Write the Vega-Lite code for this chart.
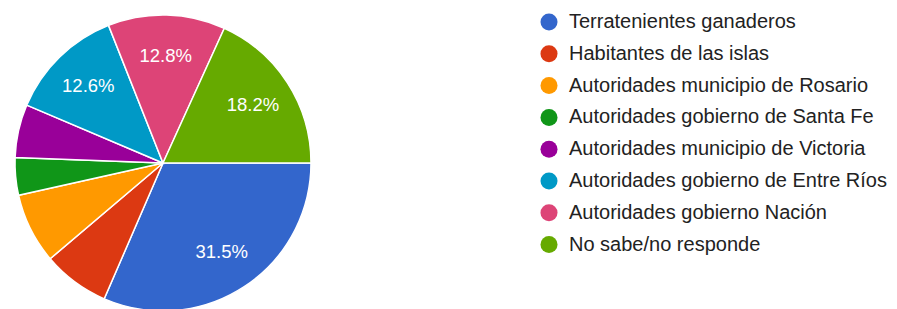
{
  "$schema": "https://vega.github.io/schema/vega-lite/v6.json",
  "width": 326,
  "height": 326,
  "autosize": {"type": "none"},
  "padding": {"top": 0, "left": 0, "right": 571, "bottom": -17},
  "background": "white",
  "config": {"view": {"stroke": null}, "font": "Liberation Sans"},
  "data": {
    "values": [
      {"order": 1, "category": "Terratenientes ganaderos", "share": 0.315},
      {"order": 2, "category": "Habitantes de las islas", "share": 0.073},
      {"order": 3, "category": "Autoridades municipio de Rosario", "share": 0.077},
      {"order": 4, "category": "Autoridades gobierno de Santa Fe", "share": 0.041},
      {"order": 5, "category": "Autoridades municipio de Victoria", "share": 0.058},
      {"order": 6, "category": "Autoridades gobierno de Entre Ríos", "share": 0.126},
      {"order": 7, "category": "Autoridades gobierno Nación", "share": 0.128},
      {"order": 8, "category": "No sabe/no responde", "share": 0.182}
    ]
  },
  "encoding": {
    "theta": {"field": "share", "type": "quantitative", "stack": true, "scale": {"range": [1.5708, 7.854]}},
    "order": {"field": "order", "type": "quantitative"},
    "color": {
      "field": "category",
      "type": "nominal",
      "sort": null,
      "scale": {
        "domain": ["Terratenientes ganaderos", "Habitantes de las islas", "Autoridades municipio de Rosario", "Autoridades gobierno de Santa Fe", "Autoridades municipio de Victoria", "Autoridades gobierno de Entre Ríos", "Autoridades gobierno Nación", "No sabe/no responde"],
        "range": ["#3366cc", "#dc3912", "#ff9900", "#109618", "#990099", "#0099c6", "#dd4477", "#66aa00"]
      },
      "legend": {
        "title": null,
        "orient": "none",
        "legendX": 539,
        "legendY": 12,
        "symbolType": "circle",
        "symbolSize": 290,
        "symbolStrokeWidth": 0,
        "labelFontSize": 20,
        "labelColor": "#222222",
        "labelFont": "Liberation Sans",
        "labelOffset": 10,
        "rowPadding": 11.8,
        "labelLimit": 400
      }
    }
  },
  "layer": [
    {
      "mark": {"type": "arc", "outerRadius": 148, "stroke": "white", "strokeWidth": 1.5}
    },
    {
      "mark": {"type": "text", "radius": 107, "fontSize": 18.5, "fill": "white", "font": "Liberation Sans"},
      "encoding": {
        "text": {
          "condition": {"test": "datum.share < 0.1", "value": ""},
          "field": "share", "type": "quantitative", "format": ".1%"
        },
        "color": {"value": "white"}
      }
    }
  ]
}
